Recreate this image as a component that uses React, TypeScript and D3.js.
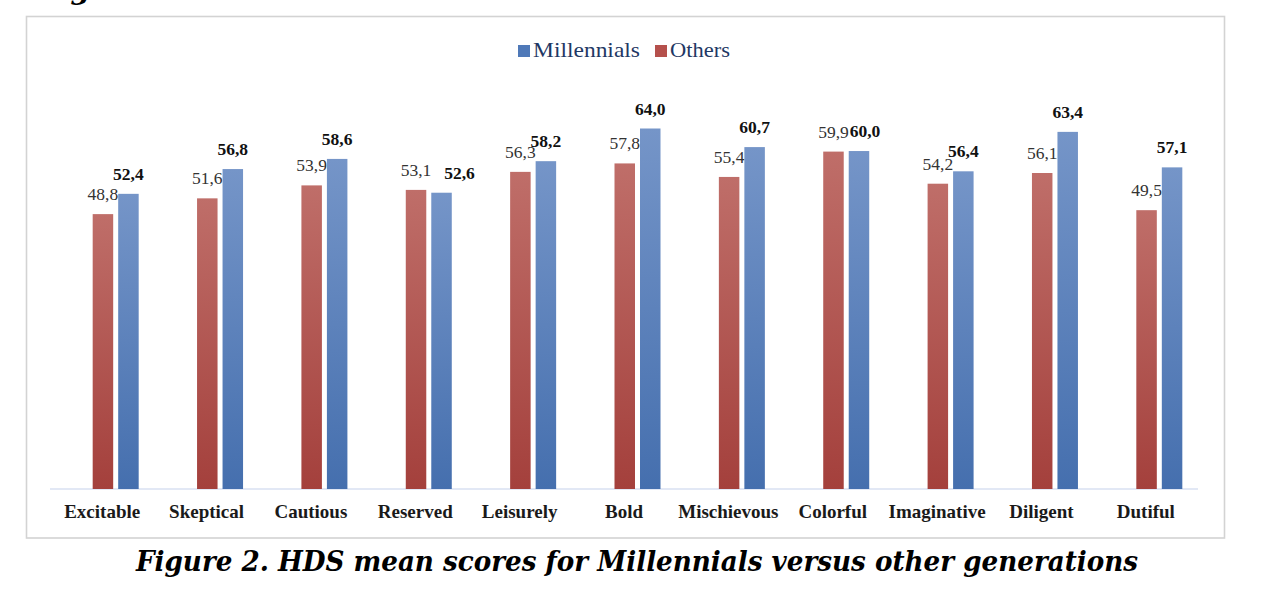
import { useEffect, useRef } from 'react';
import * as d3 from 'd3';

const categories = [
  'Excitable',
  'Skeptical',
  'Cautious',
  'Reserved',
  'Leisurely',
  'Bold',
  'Mischievous',
  'Colorful',
  'Imaginative',
  'Diligent',
  'Dutiful',
];
const others = [48.8, 51.6, 53.9, 53.1, 56.3, 57.8, 55.4, 59.9, 54.2, 56.1, 49.5];
const millennials = [52.4, 56.8, 58.6, 52.6, 58.2, 64.0, 60.7, 60.0, 56.4, 63.4, 57.1];
const legendItems = [
  { key: 'Millennials', color: '#4f79b8', width: 107 },
  { key: 'Others', color: '#b5504c', width: 60 },
];

const SERIF = "'Liberation Serif', 'Times New Roman', Tinos, Times, serif";
const fmt = (v: number) => v.toFixed(1).replace('.', ',');

export default function App() {
  const svgRef = useRef<SVGSVGElement>(null);

  useEffect(() => {
    if (!svgRef.current) return;
    const width = 1280;
    const height = 606;

    const svg = d3.select(svgRef.current).attr('width', width).attr('height', height);
    svg.selectAll('*').remove();

    // gradients (per bar, like Excel's fill)
    const defs = svg.append('defs');
    const grad = (id: string, top: string, bottom: string) => {
      const lg = defs.append('linearGradient').attr('id', id).attr('x1', 0).attr('y1', 0).attr('x2', 0).attr('y2', 1);
      lg.append('stop').attr('offset', '0%').attr('stop-color', top);
      lg.append('stop').attr('offset', '100%').attr('stop-color', bottom);
    };
    grad('gRed', '#bf6e69', '#a4403c');
    grad('gBlue', '#7595c8', '#456fae');

    // cut-off text from the page above
    svg
      .append('text')
      .attr('x', 40)
      .attr('y', -1)
      .attr('font-family', 'DejaVu Serif')
      .attr('font-size', 28)
      .attr('font-style', 'italic')
      .attr('font-weight', 'bold')
      .text('Figure 1');

    // chart frame
    svg
      .append('rect')
      .attr('x', 26.5)
      .attr('y', 16.5)
      .attr('width', 1198)
      .attr('height', 521.5)
      .attr('fill', '#fff')
      .attr('stroke', '#d3d3d3')
      .attr('stroke-width', 1.6);

    const x = d3.scaleBand().domain(categories).range([50, 1198]);
    const y = d3.scaleLinear().domain([0, 64]).range([489, 128.5]);
    const barW = 20.5;
    const gap = 5;
    const shift = 13.5;
    const center = (c: string) => (x(c) || 0) + x.bandwidth() / 2;
    // labels dragged aside in the original where they'd collide
    const nudge: Record<string, number> = { Reserved: 18, Colorful: 6 };

    // baseline
    svg
      .append('line')
      .attr('x1', 50)
      .attr('x2', 1198)
      .attr('y1', y(0))
      .attr('y2', y(0))
      .attr('stroke', '#d9e1f2')
      .attr('stroke-width', 1.5);

    const series = [
      { values: others, fill: 'url(#gRed)', dx: -gap / 2 - barW, weight: 'normal', color: '#333', moved: false },
      { values: millennials, fill: 'url(#gBlue)', dx: gap / 2, weight: 'bold', color: '#111', moved: true },
    ];

    series.forEach((s) => {
      svg
        .append('g')
        .selectAll('rect')
        .data(categories)
        .join('rect')
        .attr('x', (c) => center(c) + shift + s.dx)
        .attr('y', (c, i) => y(s.values[i]))
        .attr('width', barW)
        .attr('height', (c, i) => y(0) - y(s.values[i]))
        .attr('fill', s.fill);

      svg
        .append('g')
        .attr('font-family', SERIF)
        .attr('font-size', 17.5)
        .attr('font-weight', s.weight)
        .attr('fill', s.color)
        .attr('text-anchor', 'middle')
        .selectAll('text')
        .data(categories)
        .join('text')
        .attr('x', (c) => center(c) + shift + s.dx + barW / 2 + (s.moved ? nudge[c] || 0 : 0))
        .attr('y', (c, i) => y(s.values[i]) - 14)
        .text((c, i) => fmt(s.values[i]));
    });

    // category labels
    svg
      .append('g')
      .attr('font-family', SERIF)
      .attr('font-size', 19)
      .attr('font-weight', 'bold')
      .attr('fill', '#1a1a1a')
      .attr('text-anchor', 'middle')
      .selectAll('text')
      .data(categories)
      .join('text')
      .attr('x', (c) => center(c))
      .attr('y', 518)
      .text((c) => c);

    // legend
    const lg = svg.append('g').attr('font-family', SERIF).attr('font-size', 21).attr('fill', '#1f3864');
    let lx = 518;
    legendItems.forEach((d) => {
      lg.append('rect').attr('x', lx).attr('y', 45).attr('width', 12).attr('height', 12).attr('fill', d.color);
      lg.append('text')
        .attr('x', lx + 15)
        .attr('y', 57)
        .attr('textLength', d.width)
        .attr('lengthAdjust', 'spacingAndGlyphs')
        .text(d.key);
      lx += 15 + d.width + 15;
    });

    // caption
    svg
      .append('text')
      .attr('x', 637)
      .attr('y', 571)
      .attr('text-anchor', 'middle')
      .attr('textLength', 1002)
      .attr('lengthAdjust', 'spacingAndGlyphs')
      .attr('font-family', 'DejaVu Serif')
      .attr('font-size', 27)
      .attr('font-style', 'italic')
      .attr('font-weight', 'bold')
      .attr('fill', '#000')
      .text('Figure 2. HDS mean scores for Millennials versus other generations');
  }, []);

  return <svg ref={svgRef} style={{ position: 'absolute', left: 0, top: 0, background: '#fff' }}></svg>;
}
